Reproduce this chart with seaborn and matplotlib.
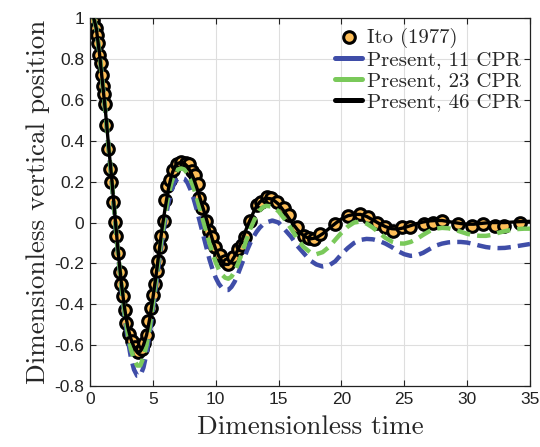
import numpy as np
import pandas as pd
import seaborn as sns
import matplotlib
matplotlib.use("Agg")
import matplotlib.pyplot as plt

# ---------------- data ----------------
t_line = [0.3, 0.5, 0.75, 1.0, 1.25, 1.5, 1.75, 2.0, 2.25, 2.5, 2.75, 3.0, 3.25, 3.5, 3.75,
          4.0, 4.25, 4.5, 4.75, 5.0, 5.25, 5.5, 5.75, 6.0, 6.25, 6.5, 6.75, 7.0, 7.25, 7.5,
          7.75, 8.0, 8.25, 8.5, 8.75, 9.0, 9.25, 9.5, 9.75, 10.0, 10.25, 10.5, 10.75, 11.0,
          11.25, 11.5, 11.75, 12.0, 12.25, 12.5, 12.75, 13.0, 13.25, 13.5, 13.75, 14.0,
          14.5, 15.0, 15.5, 16.0, 16.5, 17.0, 17.5, 18.0, 18.5, 19.0, 19.5, 20.0, 20.5,
          21.0, 21.5, 22.0, 22.5, 23.0, 23.5, 24.0, 24.5, 25.0, 25.5, 26.0, 26.5, 27.0,
          27.5, 28.0, 28.5, 29.0, 29.5, 30.0, 30.5, 31.0, 31.5, 32.0, 32.5, 33.0, 33.5,
          34.0, 34.5, 35.0]

cpr11 = [1.0, 0.95, 0.83, 0.68, 0.52, 0.35, 0.18, 0.0, -0.17, -0.32, -0.46, -0.57, -0.66,
         -0.72, -0.75, -0.75, -0.71, -0.64, -0.54, -0.43, -0.31, -0.19, -0.08, 0.02, 0.1,
         0.16, 0.2, 0.215, 0.22, 0.215, 0.195, 0.16, 0.115, 0.06, 0.0, -0.06, -0.12, -0.18,
         -0.23, -0.27, -0.3, -0.32, -0.33, -0.33, -0.315, -0.29, -0.255, -0.215, -0.175,
         -0.135, -0.1, -0.07, -0.045, -0.025, -0.01, 0.0,
         0.01, 0.0, -0.035, -0.07, -0.115, -0.15, -0.185, -0.205, -0.215, -0.21, -0.19,
         -0.155, -0.125, -0.1, -0.085, -0.08, -0.082, -0.09, -0.103, -0.12, -0.14, -0.155,
         -0.163, -0.16, -0.148, -0.13, -0.113, -0.103, -0.097, -0.095, -0.095, -0.098,
         -0.105, -0.113, -0.12, -0.124, -0.125, -0.124, -0.12, -0.115, -0.11, -0.105]

cpr23 = [1.0, 0.95, 0.83, 0.68, 0.525, 0.355, 0.19, 0.01, -0.16, -0.31, -0.44, -0.54, -0.62,
         -0.67, -0.70, -0.70, -0.66, -0.6, -0.51, -0.4, -0.28, -0.16, -0.05, 0.05, 0.14,
         0.2, 0.24, 0.26, 0.265, 0.26, 0.24, 0.21, 0.17, 0.12, 0.065, 0.01, -0.045, -0.1,
         -0.15, -0.195, -0.23, -0.255, -0.27, -0.275, -0.265, -0.24, -0.205, -0.165, -0.12,
         -0.075, -0.03, 0.005, 0.035, 0.06, 0.075, 0.082,
         0.078, 0.055, 0.015, -0.03, -0.08, -0.12, -0.145, -0.155, -0.145, -0.12, -0.085,
         -0.05, -0.02, 0.0, 0.005, -0.005, -0.025, -0.05, -0.075, -0.093, -0.102, -0.103,
         -0.095, -0.08, -0.06, -0.042, -0.03, -0.026, -0.028, -0.035, -0.045, -0.055,
         -0.062, -0.065, -0.065, -0.06, -0.05, -0.042, -0.036, -0.032, -0.03, -0.03]

cpr46 = [1.0, 0.95, 0.83, 0.68, 0.53, 0.36, 0.2, 0.02, -0.15, -0.3, -0.42, -0.51, -0.57,
         -0.61, -0.635, -0.63, -0.6, -0.55, -0.47, -0.37, -0.26, -0.14, -0.02, 0.08, 0.17,
         0.235, 0.275, 0.29, 0.295, 0.29, 0.275, 0.25, 0.215, 0.17, 0.12, 0.07, 0.02,
         -0.035, -0.085, -0.13, -0.165, -0.19, -0.205, -0.205, -0.19, -0.165, -0.135, -0.1,
         -0.06, -0.02, 0.015, 0.05, 0.08, 0.1, 0.113, 0.12,
         0.115, 0.09, 0.05, 0.005, -0.035, -0.065, -0.08, -0.075, -0.055, -0.03, -0.005,
         0.018, 0.033, 0.04, 0.04, 0.03, 0.013, -0.005, -0.02, -0.03, -0.032, -0.025,
         -0.015, -0.005, 0.003, 0.008, 0.01, 0.01, 0.005, 0.0, -0.005, -0.008, -0.008,
         -0.005, -0.002, 0.0, 0.0, 0.0, 0.002, 0.004, 0.005, 0.006]

ito_t = [0.27, 0.45, 0.55, 0.65, 0.75, 0.85, 0.92, 1.0, 1.1, 1.18, 1.3, 1.45, 1.6, 1.7, 1.85,
         1.97, 2.08, 2.22, 2.35, 2.45, 2.6, 2.75, 2.9, 3.1, 3.35, 3.6, 3.85, 4.1, 4.3, 4.5,
         4.65, 4.85, 5.0, 5.15, 5.3, 5.42, 5.55, 5.65, 5.85, 5.95, 6.1, 6.35, 6.6, 6.9, 7.25,
         7.6, 7.85, 8.15, 8.35, 8.55, 8.65, 8.9, 9.25, 9.45, 9.7, 9.95, 10.35, 10.7, 11.0,
         11.4, 11.75, 12.05, 12.3, 12.7, 13.25, 13.6, 14.05, 14.4, 14.9, 15.4, 15.8, 16.45,
         17.0, 17.4, 17.8, 18.3, 19.5, 20.55, 21.5, 22.15, 22.8, 23.45, 24.1, 24.8, 25.45,
         26.6, 27.3, 28.0, 29.3, 30.4, 31.3, 32.2, 32.9, 34.2]
ito_y = [0.99, 0.95, 0.92, 0.88, 0.82, 0.78, 0.72, 0.67, 0.63, 0.58, 0.48, 0.36, 0.26, 0.2,
         0.1, 0.005, -0.065, -0.15, -0.24, -0.3, -0.36, -0.43, -0.49, -0.545, -0.58, -0.61,
         -0.635, -0.62, -0.59, -0.55, -0.48, -0.42, -0.355, -0.3, -0.235, -0.19, -0.12,
         -0.065, 0.01, 0.11, 0.18, 0.21, 0.255, 0.285, 0.295, 0.29, 0.285, 0.25, 0.235,
         0.19, 0.12, 0.07, 0.01, -0.04, -0.07, -0.12, -0.16, -0.19, -0.205, -0.17, -0.13,
         -0.11, -0.07, 0.01, 0.085, 0.1, 0.125, 0.12, 0.1, 0.07, 0.035, -0.023, -0.064,
         -0.075, -0.08, -0.055, -0.007, 0.034, 0.043, 0.026, 0.0, -0.023, -0.04, -0.023,
         -0.023, -0.007, 0.0, 0.01, -0.007, -0.015, -0.007, -0.015, -0.015, 0.0]

labels = ["Ito (1977)", "Present, 11 CPR", "Present, 23 CPR", "Present, 46 CPR"]
x_ticks = [0, 5, 10, 15, 20, 25, 30, 35]
y_ticks = [-0.8, -0.6, -0.4, -0.2, 0, 0.2, 0.4, 0.6, 0.8, 1]
y_tick_labels = ["-0.8", "-0.6", "-0.4", "-0.2", "0", "0.2", "0.4", "0.6", "0.8", "1"]

# ---------------- plot ----------------
sns.set_theme(style="white")
plt.rcParams["font.family"] = ["Liberation Sans", "DejaVu Sans"]
plt.rcParams["mathtext.fontset"] = "cm"

fig = plt.figure(figsize=(5.40, 4.47), dpi=100)
ax = fig.add_axes([0.1667, 0.1365, 0.8148, 0.8226])

ito_df = pd.DataFrame({"t": ito_t, "y": ito_y})
line_df = pd.DataFrame({"t": t_line, "c11": cpr11, "c23": cpr23, "c46": cpr46})

dash = (0, (3.0, 1.6))
sns.scatterplot(data=ito_df, x="t", y="y", ax=ax, s=70, color="#FDBD57",
                edgecolor="black", linewidth=2.2, label=labels[0], zorder=2)
sns.lineplot(data=line_df, x="t", y="c11", ax=ax, color="#3F4DA8", lw=3.2,
             label=labels[1], zorder=3)
sns.lineplot(data=line_df, x="t", y="c23", ax=ax, color="#7AC95A", lw=3.2,
             label=labels[2], zorder=3)
sns.lineplot(data=line_df, x="t", y="c46", ax=ax, color="black", lw=2.4,
             label=labels[3], zorder=4)
for l in ax.lines[:2]:
    l.set_linestyle(dash)

ax.set_xlim(0, 35)
ax.set_ylim(-0.8, 1)
ax.set_xticks(x_ticks)
ax.set_yticks(y_ticks)
ax.set_yticklabels(y_tick_labels)
ax.tick_params(direction="in", length=4, width=0.8, labelsize=12.5, colors="#222222",
               top=True, right=True, bottom=True, left=True, pad=4)
ax.grid(True, color="#DEDEDE", lw=0.8)
for s in ax.spines.values():
    s.set_color("#222222")
    s.set_linewidth(0.9)

ax.set_xlabel("Dimensionless time", fontfamily="cmr10", fontsize=19.5, labelpad=6)
ax.set_ylabel("Dimensionless vertical position", fontfamily="cmr10", fontsize=19.5,
              labelpad=3)

leg = ax.legend(loc="upper right", frameon=False, prop={"family": "cmr10", "size": 15},
                handlelength=1.3, handletextpad=0.2, labelspacing=0.12,
                borderaxespad=0.25, borderpad=0.2)
for h in leg.get_lines():
    h.set_linestyle("-")
    h.set_linewidth(3.6)

fig.savefig("out.png", dpi=100)
